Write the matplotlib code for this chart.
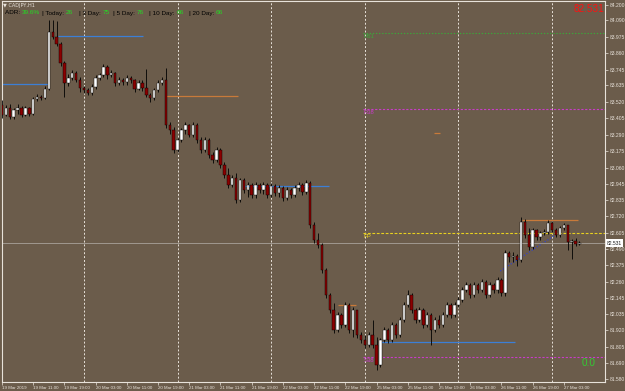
import numpy as np
import matplotlib.pyplot as plt
import matplotlib.transforms as mtransforms

BG = "#6b5c4b"
FG = "#e8e2da"

# CADJPY H1 candles, 19 Mar 2019 03:00 .. 27 Mar 2019 07:00
first_open = 83.498
closes = [
    83.428, 83.477, 83.414, 83.463, 83.477, 83.428, 83.477, 83.435, 83.540, 83.554,
    83.547, 83.610, 84.009, 83.974, 83.925, 83.792, 83.652, 83.687, 83.722, 83.673,
    83.617, 83.603, 83.582, 83.624, 83.687, 83.708, 83.764, 83.708, 83.722, 83.652,
    83.673, 83.659, 83.687, 83.673, 83.610, 83.652, 83.617, 83.568, 83.547, 83.603,
    83.652, 83.673, 83.358, 83.323, 83.183, 83.253, 83.323, 83.358, 83.288, 83.358,
    83.253, 83.183, 83.253, 83.148, 83.113, 83.183, 83.078, 83.008, 82.938, 82.987,
    82.833, 82.973, 82.903, 82.938, 82.868, 82.938, 82.903, 82.938, 82.868, 82.931,
    82.882, 82.917, 82.847, 82.903, 82.868, 82.917, 82.938, 82.889, 82.952, 82.658,
    82.553, 82.518, 82.343, 82.168, 82.063, 81.923, 82.028, 81.958, 82.098, 81.923,
    82.063, 81.888, 81.853, 81.818, 81.888, 81.818, 81.678, 81.853, 81.923, 81.853,
    81.958, 81.888, 81.993, 82.098, 82.168, 82.063, 81.993, 82.063, 81.958, 82.028,
    81.923, 81.993, 81.958, 82.028, 82.098, 82.028, 82.098, 82.133, 82.203, 82.238,
    82.168, 82.238, 82.203, 82.259, 82.168, 82.238, 82.203, 82.273, 82.182, 82.462,
    82.434, 82.441, 82.413, 82.679, 82.588, 82.504, 82.623, 82.574, 82.602, 82.609,
    82.672, 82.623, 82.588, 82.637, 82.658, 82.539, 82.546, 82.525, 82.531,
]
highs = [
    83.533, 83.498, 83.505, 83.477, 83.505, 83.491, 83.491, 83.484, 83.554, 83.575,
    83.568, 83.631, 84.093, 84.093, 84.086, 83.939, 83.806, 83.715, 83.743, 83.736,
    83.694, 83.631, 83.617, 83.645, 83.708, 83.722, 83.785, 83.778, 83.743, 83.729,
    83.694, 83.687, 83.708, 83.701, 83.680, 83.673, 83.673, 83.750, 83.582, 83.617,
    83.673, 83.694, 83.757, 83.379, 83.344, 83.267, 83.337, 83.379, 83.365, 83.379,
    83.372, 83.274, 83.274, 83.267, 83.169, 83.204, 83.197, 83.099, 83.057, 83.008,
    83.022, 82.987, 82.987, 82.959, 82.952, 82.959, 82.952, 82.959, 82.952, 82.952,
    82.945, 82.938, 82.931, 82.924, 82.917, 82.938, 82.959, 82.952, 82.973, 82.966,
    82.679, 82.602, 82.532, 82.357, 82.182, 82.112, 82.049, 82.042, 82.119, 82.112,
    82.084, 82.049, 81.909, 81.888, 81.909, 81.993, 81.874, 81.867, 81.944, 81.937,
    81.979, 81.972, 82.014, 82.119, 82.203, 82.182, 82.077, 82.084, 82.077, 82.049,
    82.042, 82.014, 82.028, 82.049, 82.119, 82.112, 82.119, 82.154, 82.224, 82.259,
    82.252, 82.259, 82.252, 82.280, 82.273, 82.259, 82.252, 82.294, 82.287, 82.483,
    82.476, 82.469, 82.455, 82.714, 82.700, 82.637, 82.637, 82.630, 82.616, 82.630,
    82.693, 82.686, 82.637, 82.651, 82.672, 82.651, 82.560, 82.567, 82.546,
]
lows = [
    83.407, 83.421, 83.400, 83.400, 83.435, 83.414, 83.421, 83.421, 83.428, 83.526,
    83.533, 83.540, 83.603, 83.960, 83.911, 83.771, 83.554, 83.631, 83.673, 83.659,
    83.589, 83.582, 83.568, 83.568, 83.610, 83.673, 83.694, 83.680, 83.694, 83.631,
    83.638, 83.638, 83.638, 83.652, 83.589, 83.603, 83.596, 83.554, 83.519, 83.533,
    83.589, 83.638, 83.337, 83.295, 83.162, 83.169, 83.239, 83.295, 83.274, 83.274,
    83.232, 83.162, 83.169, 83.127, 83.092, 83.099, 83.057, 82.987, 82.917, 82.924,
    82.812, 82.819, 82.882, 82.854, 82.847, 82.847, 82.882, 82.875, 82.847, 82.854,
    82.861, 82.854, 82.826, 82.833, 82.847, 82.854, 82.896, 82.868, 82.875, 82.637,
    82.532, 82.497, 82.322, 82.147, 82.042, 81.902, 81.909, 81.937, 81.944, 81.902,
    81.874, 81.867, 81.832, 81.797, 81.804, 81.797, 81.643, 81.664, 81.839, 81.832,
    81.839, 81.867, 81.874, 81.979, 82.084, 82.042, 81.972, 81.979, 81.937, 81.944,
    81.818, 81.909, 81.937, 81.944, 82.014, 82.007, 82.014, 82.084, 82.119, 82.189,
    82.147, 82.154, 82.182, 82.189, 82.147, 82.154, 82.182, 82.182, 82.161, 82.161,
    82.399, 82.399, 82.371, 82.399, 82.567, 82.483, 82.490, 82.553, 82.553, 82.588,
    82.595, 82.609, 82.574, 82.574, 82.623, 82.483, 82.420, 82.511, 82.518,
]
opens = [first_open] + closes[:-1]

time_labels = [
    "19 Mar 2019", "19 Mar 11:00", "19 Mar 19:00", "20 Mar 03:00", "20 Mar 11:00",
    "20 Mar 19:00", "21 Mar 03:00", "21 Mar 11:00", "21 Mar 19:00", "22 Mar 03:00",
    "22 Mar 11:00", "22 Mar 19:00", "25 Mar 03:00", "25 Mar 11:00", "25 Mar 19:00",
    "26 Mar 03:00", "26 Mar 11:00", "26 Mar 19:00", "27 Mar 03:00",
]
label_every = 8
day_starts = [21, 45, 69, 93, 117, 141]

price_ticks = [84.200, 84.090, 83.975, 83.860, 83.745, 83.635, 83.520, 83.405,
               83.290, 83.175, 83.060, 82.945, 82.835, 82.720, 82.605, 82.490,
               82.375, 82.260, 82.145, 82.035, 81.920, 81.805, 81.690, 81.580]

# previous-period levels: (price, start bar, end bar)
blue_levels = [(83.645, 0, 11.8), (83.981, 14.3, 36.1), (82.931, 62.4, 83.7), (81.839, 97, 131.5)]
orange_levels = [(83.561, 42, 60.4), (82.098, 86.2, 90.8), (82.693, 133.3, 147.6), (83.302, 110.8, 112.2)]

# fib pivots for the current week
pivot_start = 92.4
pivots = [("R61", 84.002, "#3aa83a", (0, (1.2, 1.6))),
          ("R38", 83.470, "#c83cc8", (0, (2, 1.5))),
          ("PP", 82.602, "#e8d020", (0, (2.5, 1.5))),
          ("S38", 81.734, "#c83cc8", (0, (2, 1.5)))]
trend = ([127.7, 141.8], [82.336, 82.588])
bid = 82.531

adr_parts = [("ADR: ", "39.6%"), ("| Today: ", "26"), ("| 3 Day: ", "75"),
             ("| 5 Day: ", "76"), ("| 10 Day: ", "66"), ("| 20 Day: ", "66")]
adr_x = [5, 42, 79, 113, 149, 189]

plt.rcParams["font.family"] = ["Liberation Sans", "DejaVu Sans"]

fig = plt.figure(figsize=(6.25, 3.91), dpi=100, facecolor=BG)
ax = fig.add_axes([2 / 625, 9 / 391, 603 / 625, 381 / 391])
ax.set_facecolor(BG)

n = len(closes)
x = np.arange(n)
o = np.array(opens)
c = np.array(closes)
up = c >= o

ax.vlines(x, lows, highs, color="black", lw=0.6, zorder=3)
body_bottom = np.minimum(o, c)
body_h = np.maximum(np.abs(c - o), 0.002)
ax.bar(x[up], body_h[up], bottom=body_bottom[up], width=0.62,
       color="white", edgecolor="black", linewidth=0.3, zorder=4)
ax.bar(x[~up], body_h[~up], bottom=body_bottom[~up], width=0.62,
       color="#8b0000", edgecolor="black", linewidth=0.3, zorder=4)

xmax = 154.55
ax.set_xlim(0.25, xmax)
ax.set_ylim(81.559, 84.226)

for d in day_starts:
    ax.axvline(d, color=FG, lw=0.7, ls=(0, (2, 2)), zorder=1)

for lvl, a, b in blue_levels:
    ax.hlines(lvl, a, b, color="#3c7fd6", lw=0.9, zorder=2)
for lvl, a, b in orange_levels:
    ax.hlines(lvl, a, b, color="#c87a3a", lw=0.9, zorder=2)

for name, lvl, col, ls in pivots:
    ax.hlines(lvl, pivot_start, xmax, color=col, lw=0.8, ls=ls, zorder=2)
    ax.text(pivot_start + 0.2, lvl - 0.004, name, color=col, fontsize=4.2,
            va="top", ha="left", zorder=5)

ax.plot(trend[0], trend[1], color="#3344cc", lw=0.9, ls=(0, (1, 1.5)), zorder=2)
ax.axhline(bid, color="#a8a29a", lw=0.6, zorder=2)

# axes styling
for s in ax.spines.values():
    s.set_color(FG)
    s.set_linewidth(0.8)
ax.yaxis.tick_right()
ax.set_yticks(price_ticks)
ax.set_yticklabels([f"{p:.3f}" for p in price_ticks])
ax.set_xticks(np.arange(0, n, label_every))
ax.set_xticklabels(time_labels)
for lbl in ax.get_xticklabels():
    lbl.set_horizontalalignment("left")
ax.tick_params(axis="y", colors=FG, labelsize=3.6, length=2, width=0.5, pad=1.5)
ax.tick_params(axis="x", colors=FG, labelsize=3.2, length=2, width=0.5, pad=1)

trans = mtransforms.blended_transform_factory(ax.transAxes, ax.transData)
ax.text(1.003, bid, f"{bid:.3f}", transform=trans, fontsize=3.6, color="#202020",
        va="center", ha="left", zorder=6, clip_on=False,
        bbox=dict(boxstyle="square,pad=0.25", fc="white", ec="white", lw=0))

# header texts
fig.text(3 / 625, 1 - 5 / 391, "\u25bc CADJPY,H1", color=FG, fontsize=3.6,
         va="center", ha="left", family=["DejaVu Sans"])
for (lab, val), px in zip(adr_parts, adr_x):
    t = fig.text(px / 625, 1 - 13 / 391, lab, color="black", fontsize=4.6,
                 va="center", ha="left")
    fig.canvas.draw()
    bb = t.get_window_extent()
    fig.text(bb.x1 / 625, 1 - 13 / 391, val, color="#22dd22", fontsize=4.6,
             va="center", ha="left")

fig.text(604 / 625, 1 - 9 / 391, f"{bid:.3f}", color="#ff1010", fontsize=7.2,
         va="center", ha="right")
fig.text(596 / 625, 1 - 363 / 391, "0.0", color="#33cc33", fontsize=7.2,
         va="center", ha="right")

fig.savefig("out.png", dpi=100, facecolor=BG)
plt.close(fig)
